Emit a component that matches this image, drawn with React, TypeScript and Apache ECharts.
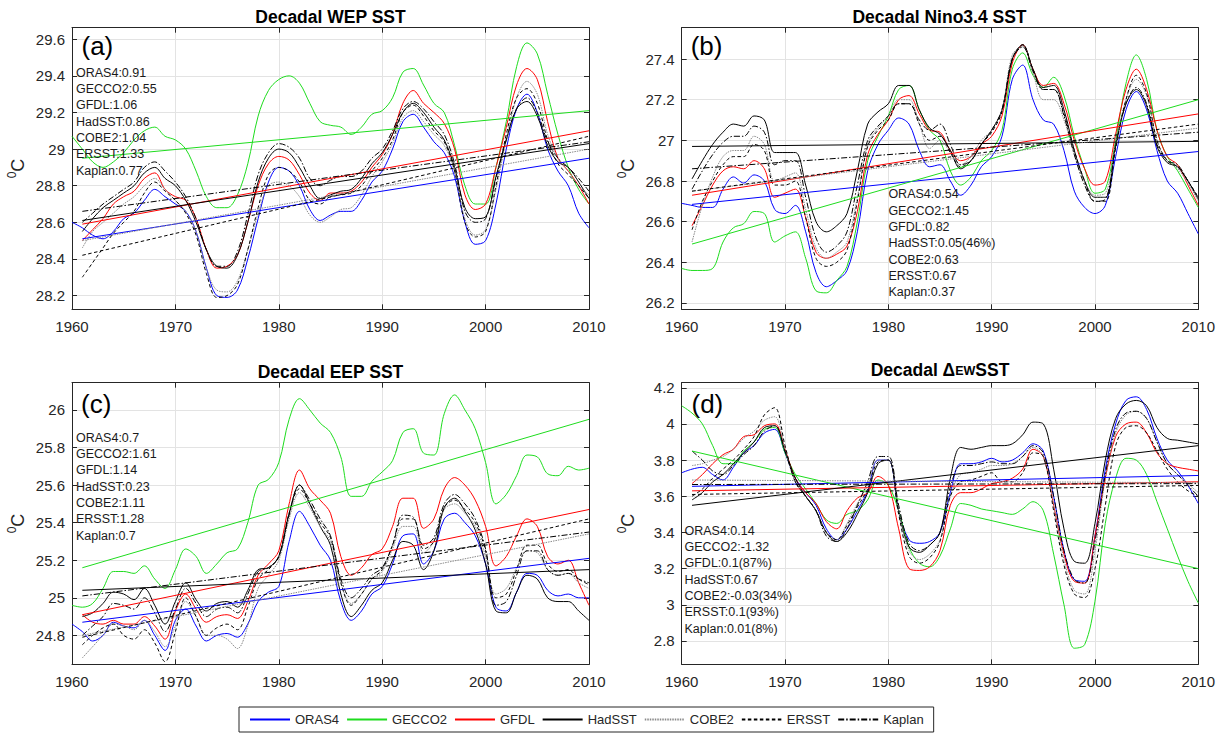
import React, { useEffect, useRef } from 'react';
import * as echarts from 'echarts';

// ---------------- DATA ----------------
const YEARS = [
  1960, 1961, 1962, 1963, 1964, 1965, 1966, 1967, 1968, 1969,
  1970, 1971, 1972, 1973, 1974, 1975, 1976, 1977, 1978, 1979,
  1980, 1981, 1982, 1983, 1984, 1985, 1986, 1987, 1988, 1989,
  1990, 1991, 1992, 1993, 1994, 1995, 1996, 1997, 1998, 1999,
  2000, 2001, 2002, 2003, 2004, 2005, 2006, 2007, 2008, 2009,
  2010,
];
const TREND_YEARS = [1961, 2010];
const NAMES = ['ORAS4', 'GECCO2', 'GFDL', 'HadSST', 'COBE2', 'ERSST', 'Kaplan'];
const X_TICKS = [1960, 1970, 1980, 1990, 2000, 2010];

// (a) WEP
const A_ORAS4 = [
  28.60, 28.57, 28.53, 28.51, 28.55, 28.62, 28.65, 28.72, 28.78, 28.74,
  28.70, 28.66, 28.55, 28.35, 28.20, 28.19, 28.23, 28.40, 28.62, 28.82,
  28.90, 28.88, 28.80, 28.67, 28.61, 28.64, 28.66, 28.66, 28.72, 28.82,
  28.88, 29.00, 29.15, 29.19, 29.12, 29.04, 28.98, 28.85, 28.60, 28.48,
  28.50, 28.70, 29.00, 29.22, 29.30, 29.20, 29.00, 28.88, 28.80, 28.65,
  28.57,
];
const A_GECCO2 = [
  29.07, 29.00, 28.93, 28.90, 28.93, 28.98, 29.05, 29.10, 29.12, 29.07,
  29.05, 29.00, 28.88, 28.74, 28.68, 28.68, 28.75, 28.92, 29.18, 29.32,
  29.38, 29.40, 29.36, 29.25, 29.15, 29.13, 29.12, 29.08, 29.12, 29.19,
  29.21, 29.28, 29.42, 29.44, 29.35, 29.25, 29.20, 29.02, 28.80, 28.70,
  28.70, 28.90, 29.15, 29.45, 29.58, 29.52, 29.30, 29.08, 28.90, 28.78,
  28.70,
];
const A_GFDL = [
  null, 28.50, 28.56, 28.62, 28.70, 28.74, 28.77, 28.84, 28.87, 28.78,
  28.74, 28.72, 28.62, 28.45, 28.35, 28.36, 28.42, 28.60, 28.80, 28.92,
  28.96, 28.94, 28.86, 28.76, 28.72, 28.76, 28.76, 28.77, 28.82, 28.90,
  28.97, 29.08, 29.25, 29.32, 29.25, 29.20, 29.14, 29.00, 28.75, 28.67,
  28.70, 28.90, 29.12, 29.35, 29.44, 29.38, 29.15, 28.95, 28.88, 28.80,
  28.70,
];
const A_HADSST = [
  null, 28.55, 28.62, 28.68, 28.72, 28.76, 28.80, 28.87, 28.90, 28.84,
  28.80, 28.72, 28.60, 28.45, 28.36, 28.35, 28.42, 28.60, 28.82, 28.95,
  29.00, 28.98, 28.90, 28.80, 28.73, 28.75, 28.77, 28.78, 28.84, 28.92,
  28.98, 29.08, 29.20, 29.25, 29.20, 29.12, 29.05, 28.90, 28.68, 28.62,
  28.63, 28.85, 29.05, 29.22, 29.26, 29.18, 29.02, 28.93, 28.90, 28.82,
  28.73,
];
const A_COBE2 = [
  null, 28.46, 28.55, 28.60, 28.65, 28.70, 28.74, 28.80, 28.84, 28.78,
  28.72, 28.66, 28.55, 28.35, 28.23, 28.22, 28.28, 28.45, 28.65, 28.80,
  28.82, 28.80, 28.74, 28.64, 28.60, 28.63, 28.67, 28.68, 28.75, 28.85,
  28.93, 29.03, 29.17, 29.21, 29.15, 29.08, 29.02, 28.88, 28.62, 28.53,
  28.56, 28.78, 29.05, 29.28, 29.37, 29.30, 29.08, 28.95, 28.88, 28.80,
  28.75,
];
const A_ERSST = [
  null, 28.30, 28.38, 28.46, 28.54, 28.60, 28.66, 28.76, 28.82, 28.77,
  28.72, 28.65, 28.53, 28.32, 28.19, 28.20, 28.26, 28.45, 28.68, 28.86,
  28.90, 28.88, 28.82, 28.72, 28.70, 28.74, 28.75, 28.76, 28.80, 28.88,
  28.95, 29.05, 29.20, 29.24, 29.18, 29.10, 29.04, 28.88, 28.60, 28.52,
  28.55, 28.80, 29.08, 29.28, 29.33, 29.25, 29.05, 28.92, 28.86, 28.80,
  28.73,
];
const A_KAPLAN = [
  null, 28.60, 28.65, 28.70, 28.74, 28.78, 28.82, 28.90, 28.93, 28.88,
  28.82, 28.74, 28.62, 28.45, 28.36, 28.36, 28.44, 28.64, 28.86, 28.98,
  29.03, 29.01, 28.95, 28.84, 28.80, 28.83, 28.85, 28.85, 28.88, 28.95,
  29.00, 29.10, 29.22, 29.26, 29.22, 29.15, 29.08, 28.92, 28.66, 28.60,
  28.62, 28.84, 29.05, 29.22, 29.28, 29.20, 29.04, 28.95, 28.90, 28.84,
  28.77,
];
const A_TREND_START = [28.51, 28.95, 28.59, 28.61, 28.50, 28.42, 28.66];
const A_TREND_END = [28.95, 29.21, 29.10, 29.03, 29.00, 29.07, 29.04];
const A_YTICKS = [28.2, 28.4, 28.6, 28.8, 29, 29.2, 29.4, 29.6];
const A_YRANGE = [28.125, 29.663];
const A_STATS = ['ORAS4:0.91', 'GECCO2:0.55', 'GFDL:1.06', 'HadSST:0.86', 'COBE2:1.04', 'ERSST:1.33', 'Kaplan:0.77'];

// (b) Nino3.4
const B_ORAS4 = [
  26.69, 26.68, 26.67, 26.67, 26.76, 26.82, 26.79, 26.83, 26.80, 26.66,
  26.64, 26.68, 26.55, 26.35, 26.28, 26.31, 26.36, 26.55, 26.85, 26.98,
  27.05, 27.11, 27.08, 26.95, 26.87, 26.88, 26.80, 26.73, 26.78, 26.87,
  26.92, 27.02, 27.30, 27.37, 27.20, 27.10, 27.08, 26.95, 26.75, 26.67,
  26.64, 26.68, 26.92, 27.15, 27.24, 27.15, 26.95, 26.80, 26.74, 26.64,
  26.54,
];
const B_GECCO2 = [
  26.37, 26.36, 26.36, 26.37, 26.50, 26.57, 26.59, 26.65, 26.64, 26.50,
  26.53, 26.55, 26.42, 26.26, 26.25, 26.31, 26.38, 26.60, 26.90, 27.02,
  27.12, 27.25, 27.27, 27.15, 27.05, 27.00, 26.85, 26.78, 26.82, 26.90,
  26.95, 27.05, 27.35, 27.43, 27.32, 27.26, 27.31, 27.22, 27.02, 26.86,
  26.74, 26.76, 27.00, 27.28, 27.42, 27.30, 27.05, 26.92, 26.85, 26.76,
  26.67,
];
const B_GFDL = [
  null, 26.58, 26.68, 26.78, 26.85, 26.87, 26.86, 26.90, 26.86, 26.72,
  26.74, 26.76, 26.62, 26.45, 26.42, 26.44, 26.48, 26.65, 26.93, 27.03,
  27.10, 27.20, 27.22, 27.13, 27.05, 27.04, 26.95, 26.90, 26.92, 26.98,
  27.02, 27.12, 27.38, 27.47, 27.35, 27.27, 27.28, 27.18, 27.00, 26.86,
  26.78, 26.80, 27.03, 27.25, 27.35, 27.25, 27.05, 26.92, 26.88, 26.78,
  26.68,
];
const B_HADSST = [
  null, 26.81, 26.90, 26.98, 27.04, 27.08, 27.07, 27.12, 27.10, 26.94,
  26.94, 26.94, 26.78, 26.60, 26.55, 26.58, 26.64, 26.85, 27.08, 27.14,
  27.18, 27.27, 27.27, 27.15, 27.06, 27.03, 26.95, 26.86, 26.90, 26.98,
  27.05, 27.15, 27.40, 27.47, 27.35, 27.26, 27.27, 27.15, 26.95, 26.80,
  26.72, 26.72, 26.98, 27.18, 27.25, 27.17, 26.97, 26.89, 26.87, 26.80,
  26.71,
];
const B_COBE2 = [
  null, 26.50, 26.68, 26.82, 26.92, 26.95, 26.95, 27.02, 26.98, 26.80,
  26.82, 26.84, 26.66, 26.47, 26.42, 26.45, 26.50, 26.72, 26.98, 27.06,
  27.12, 27.20, 27.20, 27.08, 26.96, 27.00, 26.94, 26.88, 26.92, 27.00,
  27.05, 27.15, 27.42, 27.46, 27.33, 27.20, 27.20, 27.10, 26.93, 26.80,
  26.73, 26.74, 26.98, 27.20, 27.30, 27.22, 27.00, 26.90, 26.86, 26.79,
  26.70,
];
const B_ERSST = [
  null, 26.56, 26.70, 26.80, 26.88, 26.92, 26.92, 26.98, 26.95, 26.78,
  26.78, 26.80, 26.62, 26.42, 26.38, 26.40, 26.46, 26.70, 26.97, 27.05,
  27.10, 27.18, 27.18, 27.08, 27.00, 27.02, 26.94, 26.87, 26.90, 26.98,
  27.04, 27.14, 27.40, 27.47, 27.35, 27.25, 27.25, 27.13, 26.95, 26.80,
  26.70, 26.70, 26.96, 27.20, 27.32, 27.23, 27.00, 26.90, 26.87, 26.80,
  26.72,
];
const B_KAPLAN = [
  null, 26.76, 26.85, 26.93, 26.99, 27.02, 27.02, 27.07, 27.04, 26.88,
  26.90, 26.90, 26.72, 26.52, 26.45, 26.48, 26.55, 26.78, 27.00, 27.07,
  27.12, 27.18, 27.18, 27.10, 27.05, 27.08, 26.98, 26.88, 26.90, 26.98,
  27.05, 27.15, 27.40, 27.46, 27.34, 27.25, 27.25, 27.12, 26.93, 26.78,
  26.70, 26.71, 26.97, 27.18, 27.26, 27.18, 26.98, 26.90, 26.88, 26.80,
  26.72,
];
const B_TREND_START = [26.685, 26.49, 26.73, 26.97, 26.75, 26.75, 26.86];
const B_TREND_END = [26.945, 27.2, 27.13, 26.995, 27.06, 27.08, 27.04];
const B_YTICKS = [26.2, 26.4, 26.6, 26.8, 27, 27.2, 27.4];
const B_YRANGE = [26.169, 27.554];
const B_STATS = ['ORAS4:0.54', 'GECCO2:1.45', 'GFDL:0.82', 'HadSST:0.05(46%)', 'COBE2:0.63', 'ERSST:0.67', 'Kaplan:0.37'];

// (c) EEP
const C_ORAS4 = [
  24.86, 24.82, 24.77, 24.80, 24.87, 24.85, 24.84, 24.88, 24.80, 24.72,
  24.88, 24.94, 24.85, 24.77, 24.80, 24.81, 24.79, 24.86, 24.98, 25.03,
  25.06, 25.30, 25.46, 25.38, 25.28, 25.20, 24.98, 24.88, 24.93, 25.02,
  25.06, 25.18, 25.33, 25.34, 25.18, 25.25, 25.42, 25.45, 25.40, 25.33,
  25.18, 24.95, 24.93, 25.03, 25.13, 25.12, 25.04, 25.01, 25.02, 25.00,
  25.00,
];
const C_GECCO2 = [
  24.96, 24.95, 24.97, 25.05, 25.14, 25.14, 25.13, 25.17, 25.10, 25.05,
  25.15, 25.26, 25.22, 25.13, 25.18, 25.24, 25.26, 25.40, 25.60, 25.63,
  25.72, 25.95, 26.06, 26.00, 25.93, 25.88, 25.75, 25.54, 25.54, 25.62,
  25.67, 25.73, 25.88, 25.90, 25.77, 25.76, 25.98, 26.08, 26.00, 25.90,
  25.72, 25.50, 25.55, 25.65, 25.76, 25.75, 25.66, 25.65, 25.70, 25.68,
  25.69,
];
const C_GFDL = [
  null, 24.91, 24.87, 24.86, 24.88, 24.86, 24.86, 24.90, 24.85, 24.78,
  24.93, 25.02, 24.94, 24.87, 24.90, 24.91, 24.89, 24.98, 25.12, 25.18,
  25.25, 25.50, 25.68, 25.58, 25.52, 25.45, 25.22, 25.12, 25.16, 25.23,
  25.26, 25.38, 25.53, 25.53, 25.37, 25.42, 25.58, 25.64, 25.60, 25.52,
  25.38, 25.17, 25.22, 25.33, 25.42, 25.38, 25.22, 25.18, 25.20, 25.08,
  24.96,
];
const C_HADSST = [
  null, 24.90, 24.92, 24.97, 25.03, 25.02, 24.99, 25.05, 24.96, 24.86,
  24.98, 25.08, 24.99, 24.93, 24.97, 24.98, 24.95, 25.04, 25.15, 25.16,
  25.22, 25.45, 25.60, 25.50, 25.38, 25.28, 25.02, 24.90, 24.96, 25.04,
  25.08, 25.20, 25.30, 25.28, 25.15, 25.25, 25.48, 25.53, 25.46, 25.36,
  25.18, 24.93, 24.92, 25.03, 25.12, 25.10, 25.00, 24.98, 24.98, 24.93,
  24.88,
];
const C_COBE2 = [
  null, 24.68, 24.74, 24.80, 24.86, 24.85, 24.83, 24.88, 24.82, 24.74,
  24.85, 24.98, 24.90, 24.80, 24.80, 24.78, 24.73, 24.85, 25.05, 25.12,
  25.20, 25.42, 25.56, 25.48, 25.38, 25.30, 25.08, 24.97, 25.02, 25.10,
  25.14, 25.26, 25.38, 25.38, 25.24, 25.30, 25.47, 25.50, 25.45, 25.38,
  25.22, 25.02, 25.05, 25.16, 25.25, 25.24, 25.15, 25.12, 25.13, 25.08,
  25.05,
];
const C_ERSST = [
  null, 24.75, 24.80, 24.84, 24.86, 24.80, 24.78, 24.83, 24.76, 24.66,
  24.82, 25.00, 24.90, 24.80, 24.84, 24.86, 24.83, 24.95, 25.10, 25.15,
  25.22, 25.45, 25.58, 25.50, 25.40, 25.32, 25.08, 24.96, 25.02, 25.10,
  25.15, 25.28, 25.42, 25.42, 25.26, 25.30, 25.48, 25.52, 25.47, 25.40,
  25.25, 25.00, 25.02, 25.15, 25.28, 25.28, 25.18, 25.14, 25.15, 25.10,
  25.07,
];
const C_KAPLAN = [
  null, 24.80, 24.85, 24.90, 24.97, 24.96, 24.94, 25.00, 24.92, 24.82,
  24.94, 25.05, 24.97, 24.90, 24.94, 24.95, 24.92, 25.02, 25.14, 25.16,
  25.22, 25.44, 25.60, 25.52, 25.42, 25.33, 25.10, 25.00, 25.05, 25.12,
  25.16, 25.28, 25.44, 25.43, 25.28, 25.32, 25.50, 25.55, 25.50, 25.42,
  25.26, 24.96, 24.98, 25.12, 25.25, 25.25, 25.15, 25.12, 25.13, 25.10,
  25.08,
];
const C_TREND_START = [24.87, 25.16, 24.91, 25.04, 24.80, 24.79, 25.01];
const C_TREND_END = [25.21, 25.95, 25.47, 25.15, 25.34, 25.42, 25.35];
const C_YTICKS = [24.8, 25, 25.2, 25.4, 25.6, 25.8, 26];
const C_YRANGE = [24.646, 26.145];
const C_STATS = ['ORAS4:0.7', 'GECCO2:1.61', 'GFDL:1.14', 'HadSST:0.23', 'COBE2:1.11', 'ERSST:1.28', 'Kaplan:0.7'];

// (d) Delta EW
const D_ORAS4 = [
  3.73, 3.75, 3.76, 3.72, 3.69, 3.76, 3.84, 3.88, 3.95, 3.97,
  3.84, 3.70, 3.62, 3.55, 3.42, 3.36, 3.42, 3.52, 3.63, 3.80,
  3.80, 3.52, 3.36, 3.34, 3.35, 3.40, 3.62, 3.78, 3.78, 3.79,
  3.81, 3.79, 3.80, 3.84, 3.89, 3.85, 3.60, 3.30, 3.14, 3.13,
  3.38, 3.75, 4.00, 4.13, 4.15, 4.08, 3.92, 3.80, 3.74, 3.66,
  3.56,
];
const D_GECCO2 = [
  4.10, 4.06, 4.00, 3.88, 3.78, 3.78, 3.85, 3.90, 3.97, 3.98,
  3.84, 3.72, 3.64, 3.56, 3.47, 3.45, 3.50, 3.52, 3.58, 3.69,
  3.66, 3.52, 3.32, 3.23, 3.21, 3.27, 3.42, 3.56, 3.55, 3.53,
  3.52, 3.51, 3.50, 3.53, 3.57, 3.52, 3.28, 3.00, 2.76, 2.78,
  3.02, 3.45, 3.70, 3.81, 3.80, 3.72, 3.57, 3.42, 3.27, 3.13,
  3.01,
];
const D_GFDL = [
  null, 3.67, 3.72, 3.78, 3.83, 3.86, 3.93, 3.94, 3.99, 4.00,
  3.86, 3.70, 3.62, 3.56, 3.46, 3.42, 3.52, 3.59, 3.62, 3.71,
  3.66, 3.42, 3.20, 3.19, 3.21, 3.30, 3.55, 3.62, 3.62, 3.64,
  3.67, 3.68, 3.70, 3.75, 3.86, 3.82, 3.55, 3.28, 3.13, 3.12,
  3.38, 3.70, 3.93, 4.00, 4.01, 3.95, 3.84, 3.78, 3.76, 3.75,
  3.74,
];
const D_HADSST = [
  null, 3.58, 3.62, 3.68, 3.72, 3.78, 3.84, 3.90, 3.98, 3.99,
  3.85, 3.70, 3.60, 3.52, 3.40, 3.35, 3.40, 3.50, 3.62, 3.78,
  3.80, 3.52, 3.32, 3.29, 3.33, 3.40, 3.70, 3.87, 3.86, 3.87,
  3.88, 3.88, 3.89, 3.94, 4.01, 4.00, 3.75, 3.42, 3.24, 3.23,
  3.45, 3.80, 4.03, 4.11, 4.13, 4.10, 3.98, 3.92, 3.91, 3.90,
  3.89,
];
const D_COBE2 = [
  null, 3.77, 3.78, 3.80, 3.82, 3.86, 3.92, 3.96, 4.02, 4.04,
  3.86, 3.68, 3.60, 3.52, 3.40, 3.36, 3.45, 3.56, 3.66, 3.80,
  3.80, 3.52, 3.30, 3.25, 3.28, 3.36, 3.60, 3.72, 3.73, 3.75,
  3.77, 3.77, 3.78, 3.82, 3.87, 3.82, 3.55, 3.25, 3.08, 3.06,
  3.30, 3.70, 3.95, 4.05, 4.07, 4.03, 3.90, 3.78, 3.72, 3.67,
  3.62,
];
const D_ERSST = [
  null, 3.60, 3.64, 3.70, 3.75, 3.80, 3.86, 3.93, 4.05, 4.09,
  3.88, 3.68, 3.60, 3.52, 3.40, 3.36, 3.44, 3.54, 3.64, 3.79,
  3.80, 3.50, 3.27, 3.23, 3.26, 3.35, 3.60, 3.68, 3.69, 3.71,
  3.73, 3.68, 3.68, 3.73, 3.84, 3.82, 3.52, 3.22, 3.06, 3.04,
  3.20, 3.55, 3.88, 3.98, 3.99, 3.95, 3.85, 3.75, 3.68, 3.63,
  3.60,
];
const D_KAPLAN = [
  null, 3.85, 3.80, 3.74, 3.72, 3.77, 3.83, 3.88, 3.96, 3.99,
  3.85, 3.68, 3.60, 3.52, 3.38, 3.35, 3.42, 3.55, 3.68, 3.82,
  3.82, 3.55, 3.34, 3.30, 3.33, 3.40, 3.65, 3.77, 3.77, 3.78,
  3.79, 3.78, 3.78, 3.82, 3.88, 3.84, 3.60, 3.30, 3.14, 3.12,
  3.35, 3.72, 3.97, 4.06, 4.07, 4.03, 3.90, 3.78, 3.72, 3.66,
  3.60,
];
const D_TREND_START = [3.655, 3.85, 3.63, 3.55, 3.69, 3.61, 3.665];
const D_TREND_END = [3.715, 3.2, 3.68, 3.88, 3.675, 3.66, 3.67];
const D_YTICKS = [2.8, 3, 3.2, 3.4, 3.6, 3.8, 4, 4.2];
const D_YRANGE = [2.671, 4.228];
const D_STATS = ['ORAS4:0.14', 'GECCO2:-1.32', 'GFDL:0.1(87%)', 'HadSST:0.67', 'COBE2:-0.03(34%)', 'ERSST:0.1(93%)', 'Kaplan:0.01(8%)'];

// ---------------- STYLE / LAYOUT ----------------
const FONT = '"Liberation Sans", Arial, Helvetica, sans-serif';
const INK = '#262626';
const GRID_LINE = '#e3e3e3';
const STYLES: { color: string; type: any; width: number }[] = [
  { color: '#0000ff', type: 'solid', width: 1 },
  { color: '#1edc1e', type: 'solid', width: 1 },
  { color: '#ff0000', type: 'solid', width: 1 },
  { color: '#000000', type: 'solid', width: 1 },
  { color: '#8a8a8a', type: [1.5, 1], width: 1 },
  { color: '#000000', type: [3.5, 2.5], width: 1 },
  { color: '#000000', type: [6, 2, 1.5, 2], width: 1 },
];

const PANELS = [
  {
    series: [A_ORAS4, A_GECCO2, A_GFDL, A_HADSST, A_COBE2, A_ERSST, A_KAPLAN],
    tStart: A_TREND_START, tEnd: A_TREND_END, yTicks: A_YTICKS, yRange: A_YRANGE, stats: A_STATS,
    grid: { left: 72, top: 27.7, width: 517, height: 281.6 },
    title: '{t|Decadal WEP SST}', titleX: 330.5, titleY: 16.5,
    tag: '(a)', tagX: 81.5, tagY: 46,
    statsX: 76, statsY: 72.7,
  },
  {
    series: [B_ORAS4, B_GECCO2, B_GFDL, B_HADSST, B_COBE2, B_ERSST, B_KAPLAN],
    tStart: B_TREND_START, tEnd: B_TREND_END, yTicks: B_YTICKS, yRange: B_YRANGE, stats: B_STATS,
    grid: { left: 681.7, top: 27.7, width: 516.6, height: 281.6 },
    title: '{t|Decadal Nino3.4 SST}', titleX: 939.5, titleY: 16.5,
    tag: '(b)', tagX: 690.7, tagY: 46,
    statsX: 888.4, statsY: 194.3,
  },
  {
    series: [C_ORAS4, C_GECCO2, C_GFDL, C_HADSST, C_COBE2, C_ERSST, C_KAPLAN],
    tStart: C_TREND_START, tEnd: C_TREND_END, yTicks: C_YTICKS, yRange: C_YRANGE, stats: C_STATS,
    grid: { left: 72, top: 382.7, width: 517, height: 281.6 },
    title: '{t|Decadal EEP SST}', titleX: 330.5, titleY: 371.7,
    tag: '(c)', tagX: 81, tagY: 404,
    statsX: 76, statsY: 437.7,
  },
  {
    series: [D_ORAS4, D_GECCO2, D_GFDL, D_HADSST, D_COBE2, D_ERSST, D_KAPLAN],
    tStart: D_TREND_START, tEnd: D_TREND_END, yTicks: D_YTICKS, yRange: D_YRANGE, stats: D_STATS,
    grid: { left: 681.7, top: 382.7, width: 516.6, height: 281.6 },
    title: '{t|Decadal Δ}{s|EW}{t|SST}', titleX: 940, titleY: 369,
    tag: '(d)', tagX: 691.5, tagY: 404,
    statsX: 684.5, statsY: 530.7,
  },
];

function buildOption() {
  const grid: any[] = [];
  const xAxis: any[] = [];
  const yAxis: any[] = [];
  const series: any[] = [];
  const elements: any[] = [];
  const axisLine = { show: true, onZero: false, lineStyle: { color: INK, width: 1 } };
  const axisTick = { show: true, inside: true, length: 5, lineStyle: { color: INK, width: 1 } };

  PANELS.forEach((p, i) => {
    grid.push({ ...p.grid, containLabel: false });
    const xBase = {
      type: 'value', gridIndex: i, min: X_TICKS[0], max: X_TICKS[X_TICKS.length - 1], interval: 10,
      axisLine, axisTick,
    };
    xAxis.push({
      ...xBase, position: 'bottom',
      axisLabel: { show: true, fontSize: 15, color: INK, fontFamily: FONT, margin: 10, formatter: (v: number) => String(v) },
      splitLine: { show: true, lineStyle: { color: GRID_LINE, width: 1 } },
    });
    xAxis.push({ ...xBase, position: 'top', axisLabel: { show: false }, splitLine: { show: false } });
    const yBase = {
      type: 'value', gridIndex: i, min: p.yRange[0], max: p.yRange[1],
      axisLine, axisTick: { ...axisTick, customValues: p.yTicks },
    };
    yAxis.push({
      ...yBase, position: 'left',
      name: '{s|0}C', nameLocation: 'middle', nameGap: 42, nameRotate: 90,
      nameTextStyle: {
        fontSize: 18, color: INK, fontFamily: FONT, lineHeight: 24,
        rich: { s: { fontSize: 12, lineHeight: 10, verticalAlign: 'top', color: INK, fontFamily: FONT } },
      },
      axisLabel: { show: true, customValues: p.yTicks, fontSize: 15, color: INK, fontFamily: FONT, margin: 7, formatter: (v: number) => String(v) },
      splitLine: { show: true, lineStyle: { color: GRID_LINE, width: 1 } },
    });
    yAxis.push({ ...yBase, position: 'right', axisLabel: { show: false }, splitLine: { show: false } });

    p.series.forEach((vals, s) => {
      const st = STYLES[s];
      const data: any[] = [];
      YEARS.forEach((yr, k) => { if (vals[k] != null) data.push([yr, vals[k]]); });
      series.push({
        type: 'line', name: NAMES[s], xAxisIndex: 2 * i, yAxisIndex: 2 * i, data,
        smooth: 0.35, symbol: 'none', showSymbol: false, silent: true,
        lineStyle: { color: st.color, width: st.width, type: st.type },
        itemStyle: { color: st.color }, z: 2,
      });
    });
    p.series.forEach((_, s) => {
      const st = STYLES[s];
      series.push({
        type: 'line', name: NAMES[s], xAxisIndex: 2 * i, yAxisIndex: 2 * i,
        data: [[TREND_YEARS[0], p.tStart[s]], [TREND_YEARS[1], p.tEnd[s]]],
        symbol: 'none', showSymbol: false, silent: true,
        lineStyle: { color: st.color, width: st.width, type: st.type },
        itemStyle: { color: st.color }, z: 2,
      });
    });

    elements.push({
      type: 'text', x: p.titleX, y: p.titleY, z: 100,
      style: {
        text: p.title, align: 'center', verticalAlign: 'middle', textAlign: 'center', textVerticalAlign: 'middle',
        fill: '#000', fontFamily: FONT,
        rich: {
          t: { fontSize: 17.5, fontWeight: 'bold', lineHeight: 17, verticalAlign: 'top', fontFamily: FONT, fill: '#000' },
          s: { fontSize: 12.5, fontWeight: 'bold', lineHeight: 12, verticalAlign: 'bottom', padding: [13, 0, 0, 0], fontFamily: FONT, fill: '#000' },
        },
      },
    });
    elements.push({
      type: 'text', x: p.tagX, y: p.tagY, z: 100,
      style: { text: p.tag, fontSize: 26, fontFamily: FONT, fill: '#000', align: 'left', verticalAlign: 'middle', textAlign: 'left', textVerticalAlign: 'middle' },
    });
    p.stats.forEach((txt, k) => {
      elements.push({
        type: 'text', x: p.statsX, y: p.statsY + k * 16.3, z: 100,
        style: { text: txt, fontSize: 12.5, fontFamily: FONT, fill: '#1a1a1a', align: 'left', verticalAlign: 'middle', textAlign: 'left', textVerticalAlign: 'middle' },
      });
    });
  });

  return {
    animation: false,
    backgroundColor: '#ffffff',
    grid, xAxis, yAxis, series,
    legend: {
      data: NAMES, left: 239, top: 707, orient: 'horizontal',
      itemWidth: 40, itemHeight: 14, itemGap: 7, padding: [6, 10],
      borderColor: INK, borderWidth: 1, backgroundColor: '#ffffff',
      selectedMode: false,
      itemStyle: { opacity: 0 },
      textStyle: { fontSize: 13, color: INK, fontFamily: FONT },
    },
    graphic: { elements },
  };
}

export default function App() {
  const ref = useRef<HTMLDivElement>(null);
  useEffect(() => {
    if (!ref.current) return;
    const chart = echarts.init(ref.current, undefined, { renderer: 'svg' });
    chart.setOption(buildOption() as any);
    return () => chart.dispose();
  }, []);
  return (
    <div
      ref={ref}
      style={{ position: 'fixed', left: 0, top: 0, width: 1225, height: 735, background: '#fff' }}
    />
  );
}
